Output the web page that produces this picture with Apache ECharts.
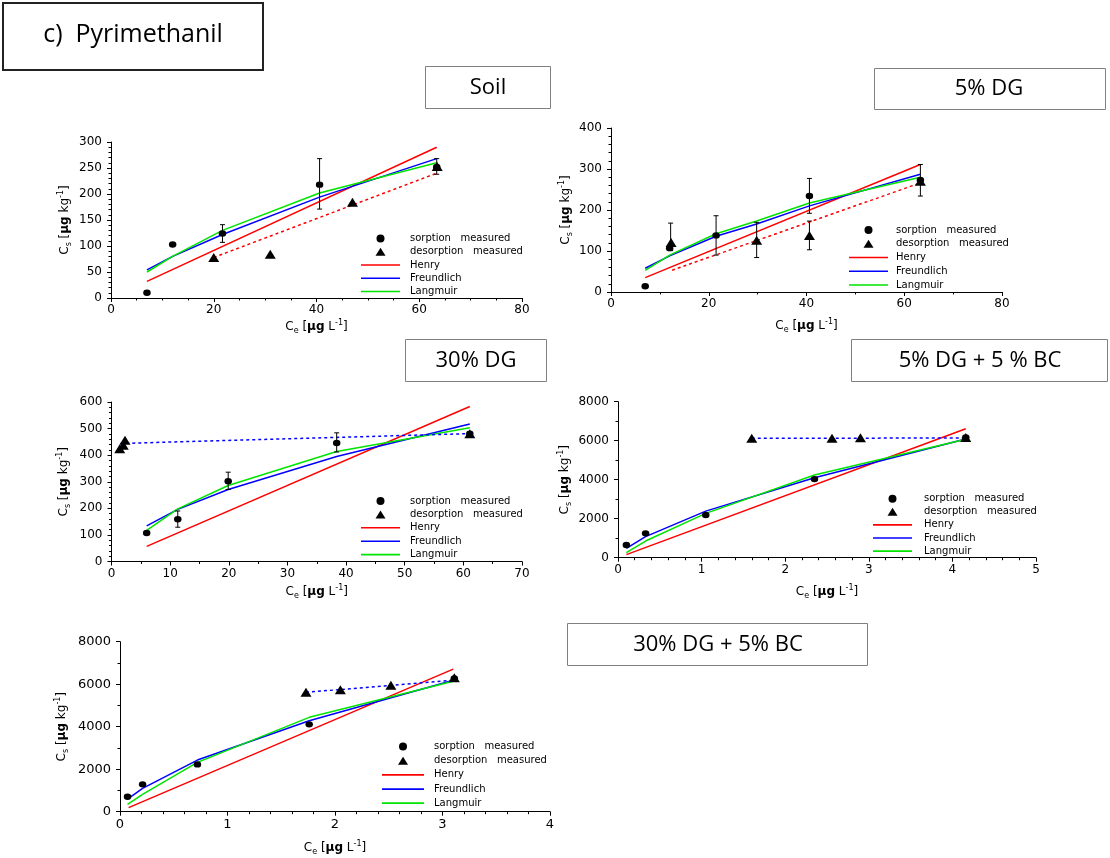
<!DOCTYPE html>
<html>
<head>
<meta charset="utf-8">
<title>Pyrimethanil sorption isotherms</title>
<script src="https://cdn.jsdelivr.net/npm/echarts@6/dist/echarts.min.js"></script>
<style>
  html, body { margin: 0; padding: 0; background: #fff; }
  #chart { width: 1110px; height: 858px; }
</style>
</head>
<body>
<div id="chart"></div>
<script>
// ---------- Soil ----------
const soilXTicks = [0, 20, 40, 60, 80];
const soilYTicks = [0, 50, 100, 150, 200, 250, 300];
const soilSorptionX = [7, 12, 21.7, 40.6, 63.4];
const soilSorptionY = [10, 103, 124, 218, 252];
const soilDesorptionX = [20, 31, 47, 63.5];
const soilDesorptionY = [78, 84, 184, 253];
const soilFitX = [7, 12, 21.7, 40.6, 63.4];
const soilFreundlich = [54, 80, 122, 194, 268];
const soilLangmuir = [50, 80, 130, 202, 260];
const soilHenryX = [7, 63.4];
const soilHenryY = [32, 290];
const soilDesFitX = [20, 63.4];
const soilDesFitY = [78, 240];
const soilErrX = [21.7, 40.6, 63.4];
const soilErrLow = [107, 171, 238];
const soilErrHigh = [141, 268, 268];

// ---------- 5% DG ----------
const dg5XTicks = [0, 20, 40, 60, 80];
const dg5YTicks = [0, 100, 200, 300, 400];
const dg5SorptionX = [7, 12, 21.5, 40.6, 63.3];
const dg5SorptionY = [14, 107, 138, 234, 273];
const dg5DesorptionX = [12.3, 29.8, 40.6, 63.3];
const dg5DesorptionY = [121, 126, 138, 270];
const dg5FitX = [7, 12, 21.5, 29.8, 40.6, 63.3];
const dg5Freundlich = [58, 88, 136, 166, 210, 287];
const dg5Langmuir = [53, 90, 142, 173, 217, 280];
const dg5HenryX = [7, 63.3];
const dg5HenryY = [35, 311];
const dg5DesFitX = [12.5, 63.3];
const dg5DesFitY = [53, 266];
const dg5ErrX = [12.2, 21.5, 29.8, 40.6, 40.6, 63.3];
const dg5ErrLow = [101, 90, 84, 192, 103, 234];
const dg5ErrHigh = [168, 186, 170, 277, 173, 311];

// ---------- 30% DG ----------
const dg30XTicks = [0, 10, 20, 30, 40, 50, 60, 70];
const dg30YTicks = [0, 100, 200, 300, 400, 500, 600];
const dg30SorptionX = [6, 11.3, 19.9, 38.4, 61.1];
const dg30SorptionY = [107, 159, 302, 446, 481];
const dg30DesorptionX = [1.4, 2.0, 2.3, 61.1];
const dg30DesorptionY = [424, 437, 456, 481];
const dg30FitX = [6, 11.3, 19.9, 38.4, 61.1];
const dg30Freundlich = [134, 196, 271, 395, 517];
const dg30Langmuir = [117, 198, 286, 414, 503];
const dg30HenryX = [6, 61.1];
const dg30HenryY = [57, 583];
const dg30DesFitX = [1.5, 61.1];
const dg30DesFitY = [444, 481];
const dg30ErrX = [11.3, 19.9, 38.4];
const dg30ErrLow = [129, 271, 412];
const dg30ErrHigh = [190, 336, 484];

// ---------- 5% DG + 5 % BC ----------
const dg5bcXTicks = [0, 1, 2, 3, 4, 5];
const dg5bcYTicks = [0, 2000, 4000, 6000, 8000];
const dg5bcSorptionX = [0.1, 0.33, 1.05, 2.35, 4.16];
const dg5bcSorptionY = [650, 1250, 2190, 4030, 6170];
const dg5bcDesorptionX = [1.6, 2.56, 2.9, 4.16];
const dg5bcDesorptionY = [6120, 6120, 6150, 6170];
const dg5bcFitX = [0.1, 0.33, 1.05, 2.35, 4.16];
const dg5bcFreundlich = [480, 1080, 2390, 4100, 6085];
const dg5bcLangmuir = [256, 855, 2275, 4240, 6070];
const dg5bcHenryX = [0.1, 4.16];
const dg5bcHenryY = [160, 6610];
const dg5bcDesFitX = [1.6, 4.16];
const dg5bcDesFitY = [6120, 6140];
const dg5bcErrX = [];
const dg5bcErrLow = [];
const dg5bcErrHigh = [];

// ---------- 30% DG + 5% BC ----------
const dg30bcXTicks = [0, 1, 2, 3, 4];
const dg30bcYTicks = [0, 2000, 4000, 6000, 8000];
const dg30bcSorptionX = [0.07, 0.21, 0.72, 1.76, 3.11];
const dg30bcSorptionY = [706, 1286, 2227, 4110, 6275];
const dg30bcDesorptionX = [1.73, 2.05, 2.52, 3.11];
const dg30bcDesorptionY = [5616, 5741, 5945, 6306];
const dg30bcFitX = [0.07, 0.21, 0.72, 1.76, 3.11];
const dg30bcFreundlich = [596, 1100, 2430, 4280, 6196];
const dg30bcLangmuir = [345, 816, 2322, 4440, 6150];
const dg30bcHenryX = [0.08, 3.1];
const dg30bcHenryY = [190, 6710];
const dg30bcDesFitX = [1.73, 3.11];
const dg30bcDesFitY = [5616, 6196];
const dg30bcErrX = [];
const dg30bcErrLow = [];
const dg30bcErrHigh = [];

// ---------- panel titles ----------
const mainTitle = 'c)  Pyrimethanil';
const panelTitles = ['Soil', '5% DG', '30% DG', '5% DG + 5 % BC', '30% DG + 5% BC'];
const legendNames = ['sorption measured', 'desorption measured', 'Henry', 'Freundlich', 'Langmuir'];

// ---------- styling ----------
const RED = '#ff0000';
const BLUE = '#0000ff';
const GREEN = '#00e400';
const TICK_FONT = 'DejaVu Sans';
const BOX_FONT = 'Open Sans';
const LINE_ICON = 'path://M0,0H40V1.6H0Z';
const TRIANGLE_ICON = 'path://M5,0L10,8L0,8Z';
const legendIcons = ['circle', TRIANGLE_ICON, LINE_ICON, LINE_ICON, LINE_ICON];

const panels = [
  { sx: soilSorptionX, sy: soilSorptionY, dx: soilDesorptionX, dy: soilDesorptionY,
    fx: soilFitX, fr: soilFreundlich, la: soilLangmuir, hx: soilHenryX, hy: soilHenryY,
    ex: soilDesFitX, ey: soilDesFitY, bx: soilErrX, bl: soilErrLow, bh: soilErrHigh,
    xt: soilXTicks, yt: soilYTicks },
  { sx: dg5SorptionX, sy: dg5SorptionY, dx: dg5DesorptionX, dy: dg5DesorptionY,
    fx: dg5FitX, fr: dg5Freundlich, la: dg5Langmuir, hx: dg5HenryX, hy: dg5HenryY,
    ex: dg5DesFitX, ey: dg5DesFitY, bx: dg5ErrX, bl: dg5ErrLow, bh: dg5ErrHigh,
    xt: dg5XTicks, yt: dg5YTicks },
  { sx: dg30SorptionX, sy: dg30SorptionY, dx: dg30DesorptionX, dy: dg30DesorptionY,
    fx: dg30FitX, fr: dg30Freundlich, la: dg30Langmuir, hx: dg30HenryX, hy: dg30HenryY,
    ex: dg30DesFitX, ey: dg30DesFitY, bx: dg30ErrX, bl: dg30ErrLow, bh: dg30ErrHigh,
    xt: dg30XTicks, yt: dg30YTicks },
  { sx: dg5bcSorptionX, sy: dg5bcSorptionY, dx: dg5bcDesorptionX, dy: dg5bcDesorptionY,
    fx: dg5bcFitX, fr: dg5bcFreundlich, la: dg5bcLangmuir, hx: dg5bcHenryX, hy: dg5bcHenryY,
    ex: dg5bcDesFitX, ey: dg5bcDesFitY, bx: dg5bcErrX, bl: dg5bcErrLow, bh: dg5bcErrHigh,
    xt: dg5bcXTicks, yt: dg5bcYTicks },
  { sx: dg30bcSorptionX, sy: dg30bcSorptionY, dx: dg30bcDesorptionX, dy: dg30bcDesorptionY,
    fx: dg30bcFitX, fr: dg30bcFreundlich, la: dg30bcLangmuir, hx: dg30bcHenryX, hy: dg30bcHenryY,
    ex: dg30bcDesFitX, ey: dg30bcDesFitY, bx: dg30bcErrX, bl: dg30bcErrLow, bh: dg30bcErrHigh,
    xt: dg30bcXTicks, yt: dg30bcYTicks }
];

// plot areas, tick density, legend placement
const layout = [
  { grid: { left: 111, top: 142, width: 411, height: 156 }, xMinor: 4, yMinor: 5, tickSize: 12,
    xGap: 21, yGap: 38, desColor: RED,
    legend: { left: 361, top: 232.5, itemWidth: 39, itemGap: 1.25, pad: 5 } },
  { grid: { left: 611, top: 128, width: 391, height: 164 }, xMinor: 2, yMinor: 5, tickSize: 12,
    xGap: 26, yGap: 37, desColor: RED,
    legend: { left: 849, top: 224, itemWidth: 39, itemGap: 1.75, pad: 3 } },
  { grid: { left: 111.5, top: 402, width: 410.5, height: 159.5 }, xMinor: 2, yMinor: 5, tickSize: 12,
    xGap: 22, yGap: 40, desColor: BLUE,
    legend: { left: 361, top: 495, itemWidth: 39, itemGap: 1.4, pad: 5 } },
  { grid: { left: 618, top: 401.7, width: 418, height: 156 }, xMinor: 5, yMinor: 2, tickSize: 12,
    xGap: 26, yGap: 45, desColor: BLUE,
    legend: { left: 873, top: 492.7, itemWidth: 39, itemGap: 1.1, pad: 7 } },
  { grid: { left: 120, top: 641.7, width: 430, height: 170 }, xMinor: 5, yMinor: 2, tickSize: 13,
    xGap: 28, yGap: 50, desColor: BLUE,
    legend: { left: 382, top: 740.6, itemWidth: 42, itemGap: 2.15, pad: 5 } }
];

// title boxes: [x, y, width, height, text centre x, text centre y, font size]
const boxLayout = [
  [425.5, 66.5, 125, 42, 488, 88, 22],
  [874.5, 68.5, 231, 41, 989, 89, 22],
  [405.5, 339.5, 141, 42, 476, 361, 22],
  [851.5, 339.5, 256, 42, 980, 361, 22],
  [567.5, 623.5, 300, 42, 718, 645, 22]
];

const pairs = (xs, ys) => xs.map((x, i) => [x, ys[i]]);

const axisNameRich = {
  n: { fontFamily: TICK_FONT, fontSize: 12, color: '#000', lineHeight: 16 },
  b: { fontFamily: TICK_FONT, fontSize: 12, fontWeight: 'bold', color: '#000', lineHeight: 16 },
  sub: { fontFamily: TICK_FONT, fontSize: 8, color: '#000', lineHeight: 8, verticalAlign: 'bottom' },
  sup: { fontFamily: TICK_FONT, fontSize: 8, color: '#000', lineHeight: 8, verticalAlign: 'top' }
};

const grids = [], xAxes = [], yAxes = [], series = [], legends = [];

panels.forEach((p, i) => {
  const L = layout[i];
  grids.push(Object.assign({ outerBoundsMode: 'none', containLabel: false }, L.grid));

  const axisCommon = (ticks, minor, size, margin) => ({
    type: 'value',
    gridIndex: i,
    min: ticks[0],
    max: ticks[ticks.length - 1],
    interval: ticks[1] - ticks[0],
    splitLine: { show: false },
    axisLine: { show: true, onZero: false, lineStyle: { color: '#000', width: 1 } },
    axisTick: { show: true, inside: false, length: 4, lineStyle: { color: '#000', width: 1 } },
    minorTick: { show: true, splitNumber: minor, length: 2.5, lineStyle: { color: '#000', width: 1 } },
    minorSplitLine: { show: false },
    axisLabel: {
      color: '#000', fontFamily: TICK_FONT, fontSize: size, margin: margin,
      showMinLabel: true, showMaxLabel: true, hideOverlap: false,
      formatter: v => String(v)
    },
    nameLocation: 'middle',
    nameTextStyle: { rich: axisNameRich }
  });

  xAxes.push(Object.assign(axisCommon(p.xt, L.xMinor, L.tickSize, 6), {
    name: '{n|C}{sub|e}{n| [}{b|\u00b5g}{n| L}{sup|-1}{n|]}',
    nameGap: L.xGap
  }));

  yAxes.push(Object.assign(axisCommon(p.yt, L.yMinor, L.tickSize, 9), {
    name: '{n|C}{sub|s}{n| [}{b|\u00b5g}{n| kg}{sup|-1}{n|]}',
    nameGap: L.yGap,
    nameRotate: 90
  }));

  const base = { xAxisIndex: i, yAxisIndex: i, animation: false, silent: true };

  series.push(Object.assign({}, base, {
    name: 'Henry', type: 'line', symbol: 'none', z: 2,
    data: pairs(p.hx, p.hy), lineStyle: { color: RED, width: 1.5 }, itemStyle: { color: RED }
  }));
  series.push(Object.assign({}, base, {
    name: 'Freundlich', type: 'line', symbol: 'none', z: 2,
    data: pairs(p.fx, p.fr), lineStyle: { color: BLUE, width: 1.5 }, itemStyle: { color: BLUE }
  }));
  series.push(Object.assign({}, base, {
    name: 'Langmuir', type: 'line', symbol: 'none', z: 2,
    data: pairs(p.fx, p.la), lineStyle: { color: GREEN, width: 1.5 }, itemStyle: { color: GREEN }
  }));
  series.push(Object.assign({}, base, {
    name: 'desorption fit', type: 'line', symbol: 'none', z: 2,
    data: pairs(p.ex, p.ey), lineStyle: { color: L.desColor, width: 1.5, type: [3, 3] },
    itemStyle: { color: L.desColor }
  }));
  if (p.bx.length) {
    series.push(Object.assign({}, base, {
      name: 'error', type: 'custom', z: 3,
      encode: { x: 0, y: [1, 2] },
      data: p.bx.map((x, k) => [x, p.bl[k], p.bh[k]]),
      renderItem: (params, api) => {
        const x = api.value(0);
        const lo = api.coord([x, api.value(1)]);
        const hi = api.coord([x, api.value(2)]);
        const w = 2.5;
        const st = { stroke: '#000', lineWidth: 1 };
        return {
          type: 'group',
          children: [
            { type: 'line', shape: { x1: lo[0], y1: lo[1], x2: hi[0], y2: hi[1] }, style: st },
            { type: 'line', shape: { x1: lo[0] - w, y1: lo[1], x2: lo[0] + w, y2: lo[1] }, style: st },
            { type: 'line', shape: { x1: hi[0] - w, y1: hi[1], x2: hi[0] + w, y2: hi[1] }, style: st }
          ]
        };
      }
    }));
  }
  series.push(Object.assign({}, base, {
    name: 'sorption measured', type: 'scatter', symbol: 'circle', symbolSize: [7.5, 6.4], z: 4,
    data: pairs(p.sx, p.sy), itemStyle: { color: '#000', opacity: 1 }
  }));
  series.push(Object.assign({}, base, {
    name: 'desorption measured', type: 'scatter', symbol: 'triangle', symbolSize: [11, 9], z: 4,
    data: pairs(p.dx, p.dy), itemStyle: { color: '#000', opacity: 1 }
  }));

  legends.push({
    orient: 'vertical',
    left: L.legend.left,
    top: L.legend.top,
    padding: 0,
    itemWidth: L.legend.itemWidth,
    itemHeight: 8,
    itemGap: L.legend.itemGap,
    symbolKeepAspect: true,
    selectedMode: false,
    data: legendNames.map((n, k) => ({ name: n, icon: legendIcons[k] })),
    formatter: name => name.replace(' ', '   '),
    textStyle: {
      fontFamily: TICK_FONT, fontSize: 10, color: '#000', lineHeight: 12,
      padding: [0, 0, 0, L.legend.pad]
    }
  });
});

const graphics = [
  { type: 'rect', shape: { x: 3, y: 3, width: 260, height: 67 },
    style: { fill: '#fff', stroke: '#222', lineWidth: 2 }, z: 10 },
  { type: 'text', x: 133, y: 35, z: 11,
    style: { text: mainTitle, fontFamily: BOX_FONT, fontSize: 25, fill: '#000',
             align: 'center', verticalAlign: 'middle' } }
];
boxLayout.forEach((b, k) => {
  graphics.push({ type: 'rect', shape: { x: b[0], y: b[1], width: b[2], height: b[3] },
    style: { fill: '#fff', stroke: '#808080', lineWidth: 1 }, z: 10 });
  graphics.push({ type: 'text', x: b[4], y: b[5], z: 11,
    style: { text: panelTitles[k], fontFamily: BOX_FONT, fontSize: b[6], fill: '#000',
             align: 'center', verticalAlign: 'middle' } });
});

const chart = echarts.init(document.getElementById('chart'), null, { renderer: 'canvas' });
chart.setOption({
  backgroundColor: '#fff',
  animation: false,
  grid: grids,
  xAxis: xAxes,
  yAxis: yAxes,
  legend: legends,
  series: series,
  graphic: graphics
});
</script>
</body>
</html>
